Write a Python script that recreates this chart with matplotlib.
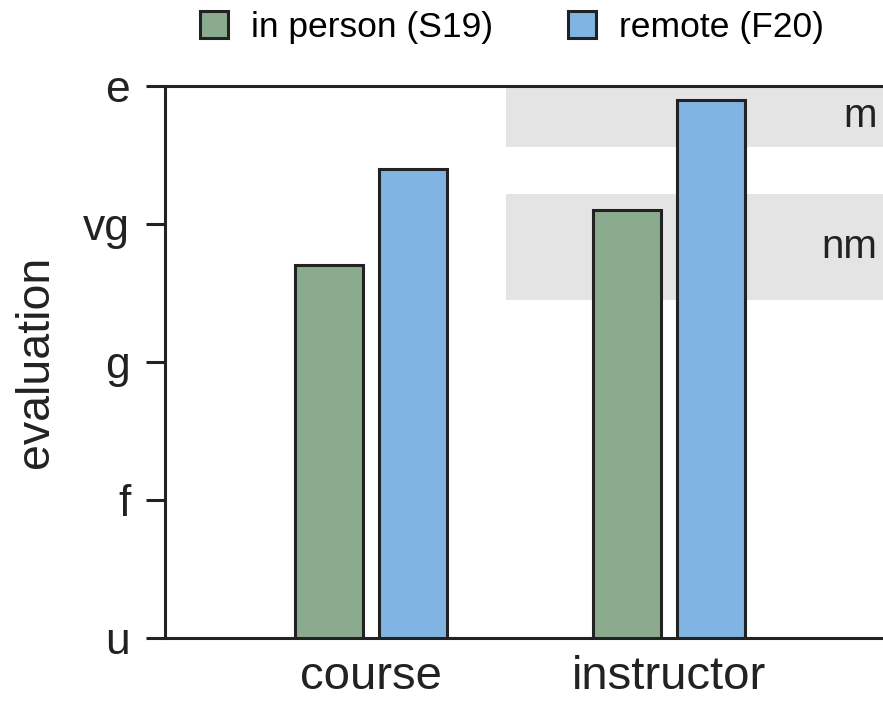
import matplotlib
matplotlib.use('Agg')
import matplotlib.pyplot as plt
from matplotlib.patches import Patch
import numpy as np

plt.rcParams['font.family'] = ['Liberation Sans', 'DejaVu Sans']

categories = ['course', 'instructor']
in_person = [2.7, 3.1]     # S19
remote = [3.4, 3.9]        # F20
tick_labels = ['u', 'f', 'g', 'vg', 'e']
bands = [(3.56, 4.0, 'm'), (2.45, 3.22, 'nm')]

green = '#8aab8e'
blue = '#80b4e2'
band_col = '#e4e4e4'
lw = 2.2

fig = plt.figure(figsize=(8.83, 7.01), dpi=100)
ax = fig.add_axes([0.1869, 0.0899, 0.8131, 0.7874])

x = np.arange(len(categories))
w = 0.228
off = 0.14
ax.bar(x - off, in_person, w, color=green, edgecolor='#222222', linewidth=lw, zorder=3)
ax.bar(x + off, remote, w, color=blue, edgecolor='#222222', linewidth=lw, zorder=3)

xmin, xmax = -0.691, 1.718
band_x0 = 0.453
for lo, hi, lab in bands:
    ax.fill_between([band_x0, xmax], lo, hi, color=band_col, linewidth=0, zorder=1)
    ax.text(xmax - 0.02, (lo + hi) / 2, lab, ha='right', va='center', fontsize=29, color='#222222', zorder=4)

ax.set_xlim(xmin, xmax)
ax.set_ylim(0, 4)
ax.set_yticks(range(5))
ax.set_yticklabels(tick_labels)
ax.set_xticks(x)
ax.set_xticklabels(categories)
ax.tick_params(axis='y', length=14, width=lw, pad=11, labelsize=32, colors='#222222')
ax.tick_params(axis='x', length=0, pad=12, labelsize=34, colors='#222222')
ax.set_ylabel('evaluation', fontsize=33.5, labelpad=18, color='#222222')

ax.spines['right'].set_visible(False)
for s in ['left', 'bottom', 'top']:
    ax.spines[s].set_linewidth(lw)
    ax.spines[s].set_color('#222222')

handles = [Patch(facecolor=green, edgecolor='#222222', linewidth=lw),
           Patch(facecolor=blue, edgecolor='#222222', linewidth=lw)]
fig.legend(handles, ['in person (S19)', 'remote (F20)'], loc='center',
           bbox_to_anchor=(512 / 883, 1 - 27 / 701), ncol=2, frameon=False,
           fontsize=25.5, handlelength=0.8, handleheight=0.8, handletextpad=0.65,
           columnspacing=2.1)

fig.savefig('out.png', dpi=100)
